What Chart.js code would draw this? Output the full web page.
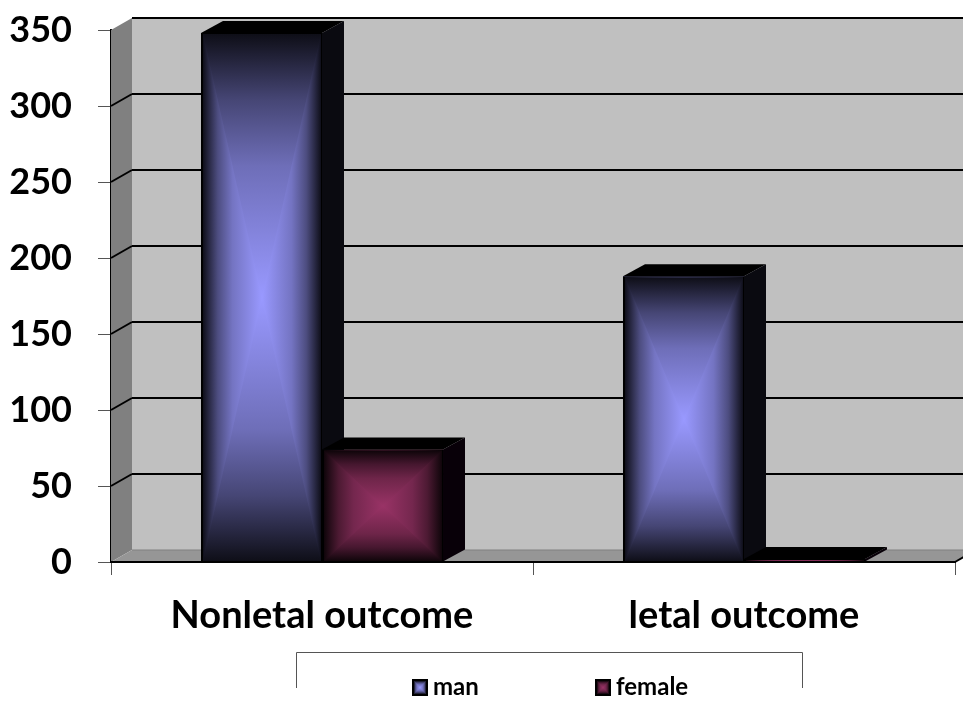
<!doctype html>
<html lang="en">
  <head>
    <meta charset="utf-8">
    <title>Outcome by sex</title>
    <style>
      html, body { margin: 0; background: #fff; overflow: hidden; }
      #wrap { width: 963px; height: 716px; position: relative; }
    </style>
  </head>
  <body>
    <div id="wrap"><canvas id="outcomeChart" width="963" height="716"></canvas></div>

    <script src="https://cdn.jsdelivr.net/npm/chart.js/dist/chart.umd.min.js"></script>
    <script>
      const categories = ['Nonletal outcome', 'letal outcome'];
      const seriesNames = ['man', 'female'];
      const manValues = [348, 188];
      const femaleValues = [74, 2];
      const tickStep = 50;
      const axisMax = 350;

      const FONT = 'Lato, Carlito, sans-serif';
      const DEPTH_X = 21;
      const BAR_DEPTH_X = 22;
      const DEPTH_Y = 12;
      const manColor = [153, 153, 255];
      const femaleColor = [153, 51, 102];
      const sideRamp = [[0, 0.1], [0.25, 0.5], [0.5, 0.76], [1, 1]];
      const topRamp = [[0, 0.09], [0.25, 0.46], [0.5, 0.72], [1, 1]];

      function shade(rgb, k) {
        return 'rgb(' + rgb.map(v => Math.round(v * k)).join(',') + ')';
      }

      function poly(ctx, pts, fill) {
        ctx.beginPath();
        pts.forEach((p, i) => i ? ctx.lineTo(p[0], p[1]) : ctx.moveTo(p[0], p[1]));
        ctx.closePath();
        ctx.fillStyle = fill;
        ctx.fill();
      }

      // ramp runs edge -> centre -> edge along the given span
      function edgeGradient(ctx, x0, y0, x1, y1, rgb, ramp) {
        const g = ctx.createLinearGradient(x0, y0, x1, y1);
        ramp.forEach(s => {
          g.addColorStop(s[0] / 2, shade(rgb, s[1]));
          g.addColorStop(1 - s[0] / 2, shade(rgb, s[1]));
        });
        return g;
      }

      // rectangular gradient: sides over the full face, then top and bottom wedges
      function faceFill(ctx, l, t, r, b, rgb) {
        const c = [(l + r) / 2, (t + b) / 2];
        poly(ctx, [[l, t], [r, t], [r, b], [l, b]], edgeGradient(ctx, l, 0, r, 0, rgb, sideRamp));
        const vertical = edgeGradient(ctx, 0, t, 0, b, rgb, topRamp);
        poly(ctx, [[l, t], [r, t], c], vertical);
        poly(ctx, [[l, b], [r, b], c], vertical);
      }

      function line(ctx, x0, y0, x1, y1, color, width) {
        ctx.beginPath();
        ctx.moveTo(x0, y0);
        ctx.lineTo(x1, y1);
        ctx.strokeStyle = color;
        ctx.lineWidth = width;
        ctx.stroke();
      }

      const wallsPlugin = {
        id: 'walls',
        beforeDatasetsDraw(chart) {
          const ctx = chart.ctx;
          const a = chart.chartArea;
          const yScale = chart.scales.y;
          const rightEnd = a.right + DEPTH_X;

          poly(ctx, [[a.left + DEPTH_X, a.top - DEPTH_Y], [rightEnd, a.top - DEPTH_Y], [rightEnd, a.bottom - DEPTH_Y], [a.left + DEPTH_X, a.bottom - DEPTH_Y]], '#c0c0c0');
          poly(ctx, [[a.left, a.top], [a.left + DEPTH_X, a.top - DEPTH_Y], [a.left + DEPTH_X, a.bottom - DEPTH_Y], [a.left, a.bottom]], '#808080');
          poly(ctx, [[a.left, a.bottom], [a.left + DEPTH_X, a.bottom - DEPTH_Y], [rightEnd, a.bottom - DEPTH_Y], [a.right, a.bottom]], '#969696');

          yScale.ticks.forEach(tick => {
            const y = yScale.getPixelForValue(tick.value);
            const isFloor = tick.value === 0;
            line(ctx, a.left + DEPTH_X, y - DEPTH_Y, rightEnd, y - DEPTH_Y, isFloor ? '#808080' : '#000', isFloor ? 1 : 2);
            if (!isFloor && tick.value !== axisMax) {
              line(ctx, a.left, y, a.left + DEPTH_X, y - DEPTH_Y, '#000', 2);
            }
          });
          line(ctx, a.right, a.bottom, rightEnd, a.bottom - DEPTH_Y, '#000', 2);
        },
        afterDatasetsDraw(chart) {
          const ctx = chart.ctx;
          const a = chart.chartArea;
          const colors = [manColor, femaleColor];
          const tints = ['#0a0a10', '#080008'];

          // each category back to front, man before female
          categories.forEach((_, i) => {
            chart.data.datasets.forEach((ds, d) => {
              const bar = chart.getDatasetMeta(d).data[i];
              const l = bar.x - bar.width / 2;
              const r = bar.x + bar.width / 2;
              const t = bar.y;
              const b = bar.base;
              poly(ctx, [[l, t], [l + BAR_DEPTH_X, t - DEPTH_Y], [r + BAR_DEPTH_X, t - DEPTH_Y], [r, t]], '#000');
              poly(ctx, [[r, t], [r + BAR_DEPTH_X, t - DEPTH_Y], [r + BAR_DEPTH_X, b - DEPTH_Y], [r, b]], tints[d]);
              poly(ctx, [[l, t], [r, t], [r, b], [l, b]], '#000');
              faceFill(ctx, l + 2, t + 1, r - 1, b, colors[d]);
            });
          });

          // front edge of the floor sits over the bars
          line(ctx, a.left, a.bottom, a.right, a.bottom, '#000', 2);
        },
        afterDraw(chart) {
          const ctx = chart.ctx;
          const colors = [manColor, femaleColor];
          const swatchX = [412, 595];
          const box = { l: 296.5, r: 802.5, t: 652.5, b: 688 };

          ctx.save();
          ctx.beginPath();
          ctx.moveTo(box.l, box.b);
          ctx.lineTo(box.l, box.t);
          ctx.lineTo(box.r, box.t);
          ctx.lineTo(box.r, box.b);
          ctx.strokeStyle = '#555';
          ctx.lineWidth = 1;
          ctx.stroke();

          ctx.textBaseline = 'middle';
          ctx.textAlign = 'left';
          ctx.font = 'bold 24px ' + FONT;
          seriesNames.forEach((name, d) => {
            const x = swatchX[d];
            poly(ctx, [[x, 679], [x + 16, 679], [x + 16, 696], [x, 696]], '#000');
            faceFill(ctx, x + 2, 681, x + 14, 694, colors[d]);
            ctx.fillStyle = '#000';
            ctx.fillText(name, x + 21, 687);
          });
          ctx.restore();
        }
      };

      new Chart(document.getElementById('outcomeChart'), {
        type: 'bar',
        data: {
          labels: categories,
          datasets: [
            { label: seriesNames[0], data: manValues, backgroundColor: shade(manColor, 1) },
            { label: seriesNames[1], data: femaleValues, backgroundColor: shade(femaleColor, 1) }
          ]
        },
        options: {
          responsive: false,
          animation: false,
          layout: { padding: { top: 30, right: 8, bottom: 0, left: 0 } },
          datasets: { bar: { categoryPercentage: 0.5735, barPercentage: 1 } },
          plugins: { legend: { display: false }, tooltip: { enabled: false } },
          scales: {
            x: {
              afterFit(scale) { scale.height = 154; },
              grid: { drawOnChartArea: false, tickLength: 13, tickColor: '#555', offset: true },
              border: { color: '#000', width: 2 },
              ticks: { color: '#000', padding: 18, maxRotation: 0, font: { family: FONT, weight: 'bold', size: 38 } }
            },
            y: {
              min: 0,
              max: axisMax,
              afterFit(scale) {
                scale.width = 111;
                scale.paddingTop = 0;
                scale.paddingBottom = 0;
              },
              grid: { drawOnChartArea: false, tickLength: 13, tickColor: '#555' },
              border: { color: '#000', width: 2 },
              ticks: { stepSize: tickStep, color: '#000', padding: 26, font: { family: FONT, weight: 'bold', size: 36 } }
            }
          }
        },
        plugins: [wallsPlugin]
      });
    </script>
  </body>
</html>
